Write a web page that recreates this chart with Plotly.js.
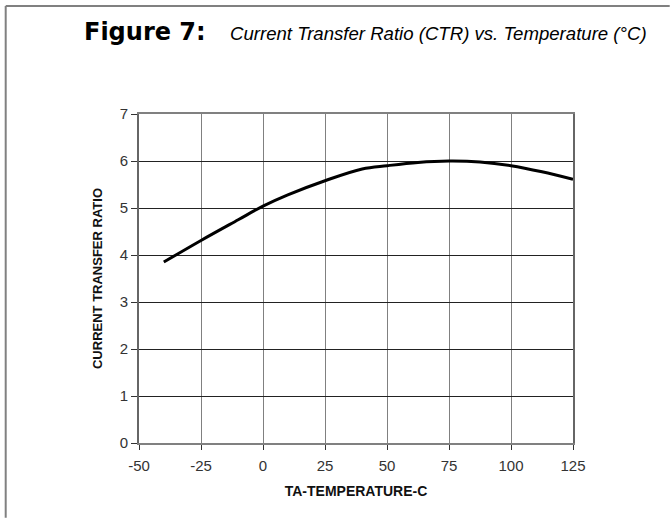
<!DOCTYPE html>
<html>
<head>
<meta charset="utf-8">
<script src="https://cdn.plot.ly/plotly-3.0.1.min.js"></script>
<style>html,body{margin:0;padding:0;background:#fff;}#chart{width:670px;height:518px;}</style>
</head>
<body>
<div id="chart"></div>
<script>
const temperatureC = [-40, -25, -10, 0, 10, 25, 40, 50, 62.5, 75, 87.5, 100, 112.5, 125];
const ctrValues = [3.85, 4.31, 4.75, 5.04, 5.28, 5.58, 5.83, 5.90, 5.97, 6.00, 5.98, 5.90, 5.77, 5.61];
const xTicks = [-50, -25, 0, 25, 50, 75, 100, 125];
const yTicks = [0, 1, 2, 3, 4, 5, 6, 7];
const figureLabel = "Figure 7:";
const figureCaption = "Current Transfer Ratio (CTR) vs. Temperature (°C)";
const xTitle = "TA-TEMPERATURE-C";
const yTitle = "CURRENT TRANSFER RATIO";

const L = 139.3, R = 573.3, T = 114, B = 443.3;
const W = R - L, H = B - T;
const px = v => (v - L) / W;
const py = v => (B - v) / H;
const FONT = 'Arial, "Liberation Sans", sans-serif';

const trace = {
  x: temperatureC, y: ctrValues, type: 'scatter', mode: 'lines',
  line: {color: '#000', width: 3, shape: 'spline', smoothing: 1},
  hoverinfo: 'skip', showlegend: false
};

const layout = {
  width: 670, height: 518,
  margin: {l: L, r: 670 - R, t: T, b: 518 - B},
  paper_bgcolor: '#fff', plot_bgcolor: '#fff',
  font: {family: FONT, color: '#222'},
  xaxis: {
    range: [-50, 125], tickvals: xTicks, ticktext: xTicks.map(String),
    showgrid: true, gridcolor: '#808080', gridwidth: 1,
    zeroline: false, showline: true, linecolor: '#808080', linewidth: 2, mirror: true,
    ticks: 'outside', ticklen: 5, tickcolor: '#333', tickwidth: 1,
    ticklabelstandoff: 3,
    tickfont: {size: 15, color: '#333', family: FONT},
    title: {text: xTitle, font: {size: 14, color: '#111', family: FONT, weight: 'bold'}, standoff: 13},
    fixedrange: true
  },
  yaxis: {
    range: [0, 7], tickvals: yTicks, ticktext: yTicks.map(String),
    showgrid: true, gridcolor: '#222', gridwidth: 1,
    zeroline: false, showline: true, linecolor: '#666', linewidth: 2, mirror: true,
    ticks: 'outside', ticklen: 6, tickcolor: '#333', tickwidth: 1,
    tickfont: {size: 15, color: '#333', family: FONT},
    title: {text: yTitle, font: {size: 13, color: '#111', family: FONT, weight: 'bold'}, standoff: 14},
    fixedrange: true
  },
  shapes: [
    {type: 'line', xref: 'paper', yref: 'paper', x0: px(6), x1: px(670), y0: py(6), y1: py(6), line: {color: '#808080', width: 2}},
    {type: 'line', xref: 'paper', yref: 'paper', x0: px(6), x1: px(6), y0: py(6), y1: py(518), line: {color: '#808080', width: 2}}
  ],
  annotations: [
    {xref: 'paper', yref: 'paper', x: px(82), y: py(32), xanchor: 'left', yanchor: 'middle', showarrow: false,
     text: '<b>' + figureLabel + '</b>', font: {family: '"DejaVu Sans", Verdana, sans-serif', size: 24, color: '#000'}},
    {xref: 'paper', yref: 'paper', x: px(228), y: py(33), xanchor: 'left', yanchor: 'middle', showarrow: false,
     text: '<i>' + figureCaption + '</i>', font: {family: FONT, size: 18.6, color: '#000'}}
  ]
};

Plotly.newPlot('chart', [trace], layout, {displayModeBar: false, staticPlot: true});
</script>
</body>
</html>
